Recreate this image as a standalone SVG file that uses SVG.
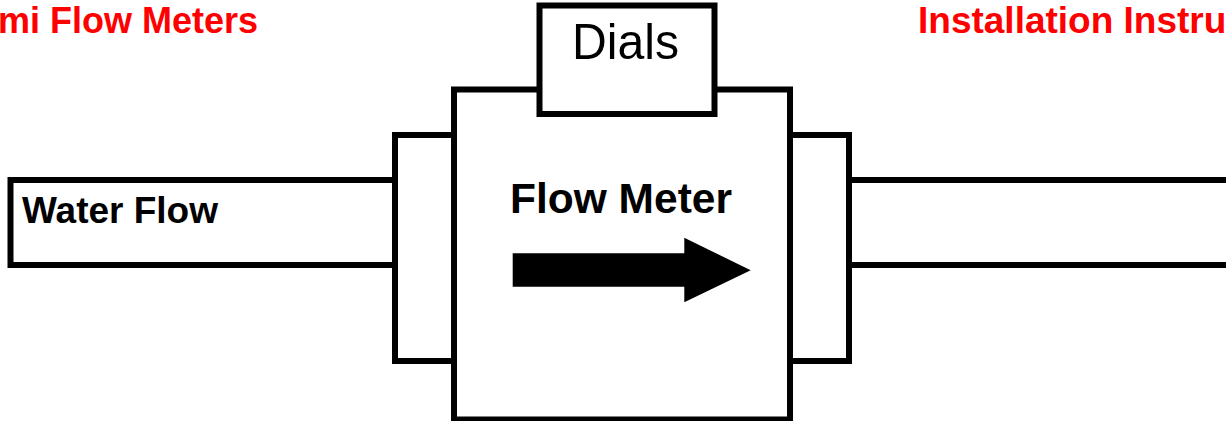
<svg xmlns="http://www.w3.org/2000/svg" width="1226" height="421" viewBox="0 0 1226 421">
  <style>
    .shape { fill: #ffffff; stroke: #000000; stroke-width: 6; }
    .title { font-family: "Liberation Sans", Arial, sans-serif; font-weight: bold; fill: #ff0000; }
    .bold { font-family: "Liberation Sans", Arial, sans-serif; font-weight: bold; fill: #000000; }
    .reg { font-family: "Liberation Sans", Arial, sans-serif; fill: #000000; }
  </style>
  <rect x="0" y="0" width="1226" height="421" fill="#ffffff"/>
  <g id="titles">
    <text class="title" x="258" y="33.3" font-size="36" text-anchor="end">mi Flow Meters</text>
    <text class="title" x="918" y="33.3" font-size="37">Installation Instru</text>
  </g>
  <g id="connectors">
    <g id="pipe-left">
      <rect class="shape" x="10.5" y="180" width="384.5" height="85"/>
      <text class="bold" x="22" y="223.3" font-size="37">Water Flow</text>
    </g>
    <g id="pipe-right">
      <rect class="shape" x="849" y="180" width="390" height="85"/>
    </g>
  </g>
  <g id="flange-left">
    <rect class="shape" x="395" y="135" width="59" height="226"/>
  </g>
  <g id="flange-right">
    <rect class="shape" x="790" y="135" width="59" height="226"/>
  </g>
  <g id="flow-meter">
    <rect class="shape" x="454" y="89.5" width="336" height="330"/>
    <text class="bold" x="510" y="213.3" font-size="42.5">Flow Meter</text>
    <polygon fill="#000000" points="512.7,253.3 684.3,253.3 684.3,237.7 750.7,270.3 684.3,302.3 684.3,286.7 512.7,286.7"/>
  </g>
  <g id="dials">
    <rect class="shape" x="539.5" y="5.5" width="175" height="108.5"/>
    <text class="reg" x="572" y="59.3" font-size="50" textLength="107" lengthAdjust="spacingAndGlyphs">Dials</text>
  </g>
</svg>
